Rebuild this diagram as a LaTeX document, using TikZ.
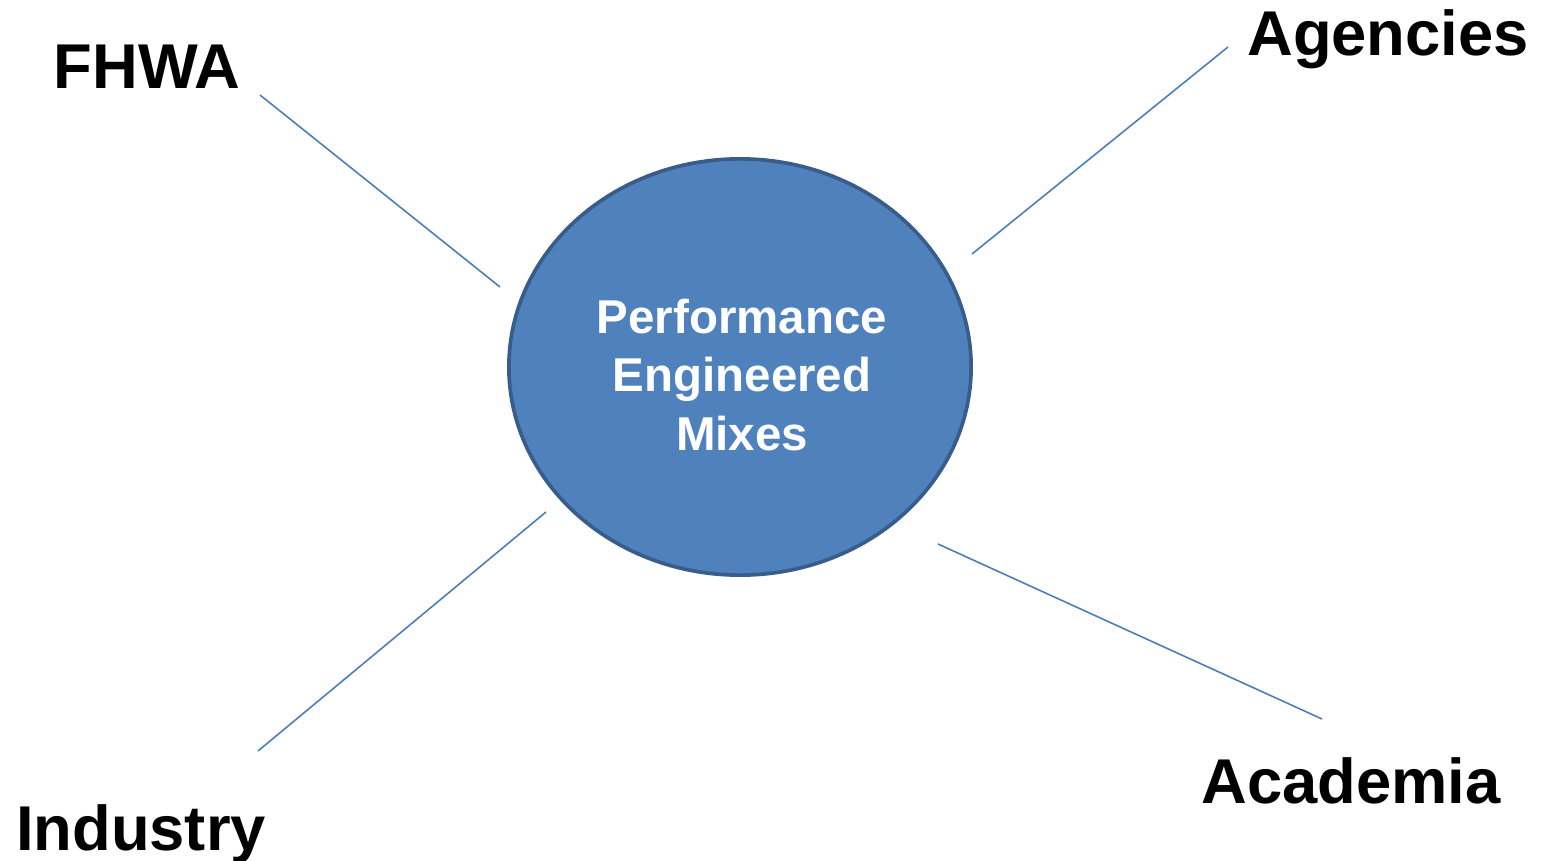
\documentclass[tikz,border=0pt]{standalone}
\usepackage{fontspec}
\setmainfont{Liberation Sans}
\usetikzlibrary{shapes.geometric,positioning}
\definecolor{mixblue}{RGB}{79,129,189}
\definecolor{mixedge}{RGB}{56,93,138}
\definecolor{linkblue}{RGB}{74,126,187}

\begin{document}
\begin{tikzpicture}[
    x=0.01cm,y=-0.01cm,
]

\useasboundingbox (0,0) rectangle (1543,861);

% Centre
\node[draw=mixedge,line width=1.05pt,fill=mixblue,ellipse,minimum width=4.62cm,minimum height=4.16cm] (pem) at (740,367) {};
\node[text=white,align=center,font=\fontsize{13.5}{16.6}\selectfont\bfseries] (pemtext) at (742,375) {Performance\\Engineered\\Mixes};

% Partners
\node[draw=none,font=\fontsize{18}{21}\selectfont\bfseries,anchor=base] (fhwa) at (147,89) {FHWA};
\node[draw=none,font=\fontsize{18}{21}\selectfont\bfseries,anchor=base] (agencies) at (1388,56) {Agencies};
\node[draw=none,font=\fontsize{18}{21}\selectfont\bfseries,anchor=base] (industry) at (141,850) {Industry};
\node[draw=none,font=\fontsize{18}{21}\selectfont\bfseries,anchor=base] (academia) at (1351,803) {Academia};

% Line ends
\coordinate (fhwa-end) at (260,95);
\coordinate (fhwa-pem) at (500,287);
\coordinate (agencies-end) at (1228,47);
\coordinate (agencies-pem) at (972,254);
\coordinate (industry-end) at (258,751);
\coordinate (industry-pem) at (546,512);
\coordinate (academia-end) at (1322,719);
\coordinate (academia-pem) at (938,544);

% Links
\foreach \p in {fhwa,agencies,industry,academia}
    \draw[-,line width=0.45pt,linkblue] (\p-end) -- (\p-pem);

\end{tikzpicture}
\end{document}
